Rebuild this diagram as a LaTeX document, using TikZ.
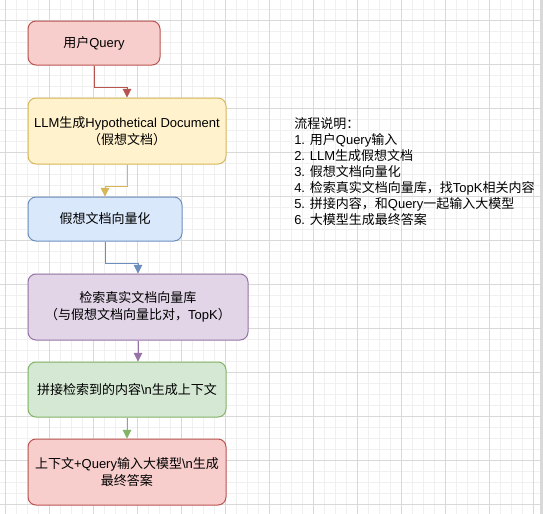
\documentclass[tikz,border=0pt]{standalone}
\usepackage{fontspec}
\setmainfont{Liberation Sans}
\newfontfamily\cjk{Noto Sans CJK SC}
\newfontfamily\latin{Liberation Sans}
\usetikzlibrary{arrows.meta}

% Chinese characters are set in the CJK font
\XeTeXinterchartokenstate=1
\newXeTeXintercharclass\hanclass
\newcount\hancode
\hancode="4E00
\loop\XeTeXcharclass\hancode=\hanclass
\ifnum\hancode<"9FFF \advance\hancode by 1 \repeat
\hancode="3000
\loop\XeTeXcharclass\hancode=\hanclass
\ifnum\hancode<"303F \advance\hancode by 1 \repeat
\hancode="FF00
\loop\XeTeXcharclass\hancode=\hanclass
\ifnum\hancode<"FFEF \advance\hancode by 1 \repeat
\XeTeXinterchartoks 0 \hanclass = {\cjk}
\XeTeXinterchartoks 4095 \hanclass = {\cjk}
\XeTeXinterchartoks \hanclass 0 = {\latin}
\XeTeXinterchartoks \hanclass 4095 = {\latin}

\definecolor{redfill}{HTML}{F8CECC}
\definecolor{redline}{HTML}{B85450}
\definecolor{yellowfill}{HTML}{FFF2CC}
\definecolor{yellowline}{HTML}{D6B656}
\definecolor{bluefill}{HTML}{DAE8FC}
\definecolor{blueline}{HTML}{6C8EBF}
\definecolor{purplefill}{HTML}{E1D5E7}
\definecolor{purpleline}{HTML}{9673A6}
\definecolor{greenfill}{HTML}{D5E8D4}
\definecolor{greenline}{HTML}{82B366}

\begin{document}
\begin{tikzpicture}[x=0.75pt,y=-0.75pt,
  box/.style={draw,rounded corners=6pt,line width=0.75pt,align=center,
    font=\fontsize{9.75}{12.75}\selectfont,text=black},
  link/.style={line width=0.75pt,-{Triangle[width=6.5pt,length=6.5pt]}}]

\useasboundingbox (0,0) rectangle (543,514);

% grid paper
\fill[white] (0,0) rectangle (543,514);
\foreach \x in {5,16,...,540} \draw[black!6,line width=0.6pt] (\x,0)--(\x,514);
\foreach \y in {9.7,20.7,...,514} \draw[black!6,line width=0.6pt] (0,\y)--(540,\y);
\foreach \x in {5,49,...,540} \draw[black!15,line width=0.6pt] (\x,0)--(\x,514);
\foreach \y in {20.7,64.7,...,514} \draw[black!15,line width=0.6pt] (0,\y)--(540,\y);
\fill[black!15] (540,0) rectangle (543,514);

% steps
\node[box,fill=redfill,draw=redline,minimum width=99pt,minimum height=33pt] (query) at (94,43) {用户Query};
\node[box,fill=yellowfill,draw=yellowline,minimum width=148.5pt,minimum height=49.5pt] (llm) at (127,131) {LLM生成Hypothetical Document\\（假想文档）};
\node[box,fill=bluefill,draw=blueline,minimum width=115.5pt,minimum height=33pt] (vec) at (105,219) {假想文档向量化};
\node[box,fill=purplefill,draw=purpleline,minimum width=165pt,minimum height=49.5pt] (search) at (138,307) {检索真实文档向量库\\（与假想文档向量比对，TopK）};
\node[box,fill=greenfill,draw=greenline,minimum width=148.5pt,minimum height=41.25pt] (concat) at (127,389.5) {拼接检索到的内容\textbackslash n生成上下文};
\node[box,fill=redfill,draw=redline,minimum width=148.5pt,minimum height=49.5pt] (answer) at (127,472) {上下文+Query输入大模型\textbackslash n生成\\最终答案};

% links
\draw[link,redline] (query.south) -- ++(0,22) -| (llm.north);
\draw[link,yellowline] (llm.south) -- ++(0,22) -| (vec.north);
\draw[link,blueline] (vec.south) -- ++(0,22) -| (search.north);
\draw[link,purpleline] (search.south) -- (search.south |- concat.north);
\draw[link,greenline] (concat.south) -- (answer.north);

% notes
\node[anchor=north west,align=left,inner sep=0pt,text=black,
  font=\fontsize{9.75}{12}\selectfont] (notes) at (294,117)
  {流程说明：\\1. 用户Query输入\\2. LLM生成假想文档\\3. 假想文档向量化\\4. 检索真实文档向量库，找TopK相关内容\\5. 拼接内容，和Query一起输入大模型\\6. 大模型生成最终答案};

\end{tikzpicture}
\end{document}
